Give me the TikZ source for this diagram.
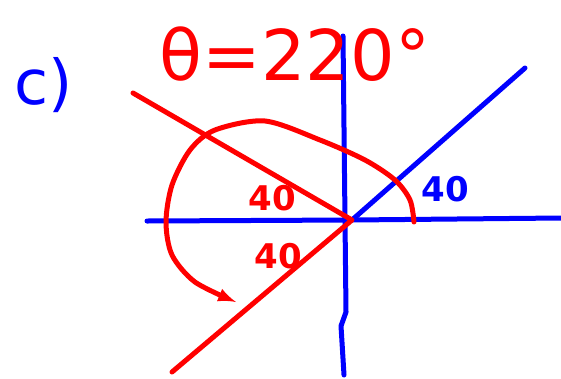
\documentclass[tikz,border=0pt]{standalone}
\usepackage{fontspec}
\setsansfont{DejaVu Sans}
\usetikzlibrary{arrows}
\begin{document}
\begin{tikzpicture}
[
	x=1pt,
	y=-1pt,
	pen/.style={line width=5pt,line cap=round,line join=round},
	axis/.style={pen,blue},
	turn/.style={pen,red},
	bigtxt/.style={font=\sffamily\fontsize{70}{70}\selectfont,inner sep=0pt},
	angtxt/.style={font=\sffamily\bfseries\fontsize{34}{34}\selectfont,inner sep=0pt}
]
	\useasboundingbox (0,0) rectangle (561,378);

	\coordinate (O) at (352,220);
	\coordinate (xl) at (147,221);
	\coordinate (xr) at (561,218);
	\coordinate (yt) at (343,36);
	\coordinate (yb) at (344,375);
	\coordinate (ref) at (525,68);
	\coordinate (side) at (133,93);
	\coordinate (term) at (172,372);

	% axes
	\draw[axis] (xl) -- (O) -- (xr);
	\draw[axis] (yt) -- (345,220) -- (346,312) -- (341,326) -- (yb);

	% reference ray
	\draw[axis] (O) -- (ref);

	% red sides
	\draw[turn] (side) -- (O) -- (term);

	% rotation arrow
	\draw[turn,-latex] plot[smooth] coordinates {(414,222) (410,200) (395,180)
		(365,160) (320,140) (265,121) (215,130) (190,150) (172,185) (166,222)
		(172,255) (195,282) (236,302)};

	% labels
	\node[blue,font=\sffamily\fontsize{62}{62}\selectfont,inner sep=0pt] (part) at (44,85) {c)};
	\node[red,bigtxt,anchor=base] (title) at (295,80) {θ=220°};
	\node[red,angtxt] (a1) at (272,198) {40};
	\node[red,angtxt] (a2) at (278,256) {40};
	\node[blue,angtxt] (a3) at (445,189) {40};

\end{tikzpicture}
\end{document}
